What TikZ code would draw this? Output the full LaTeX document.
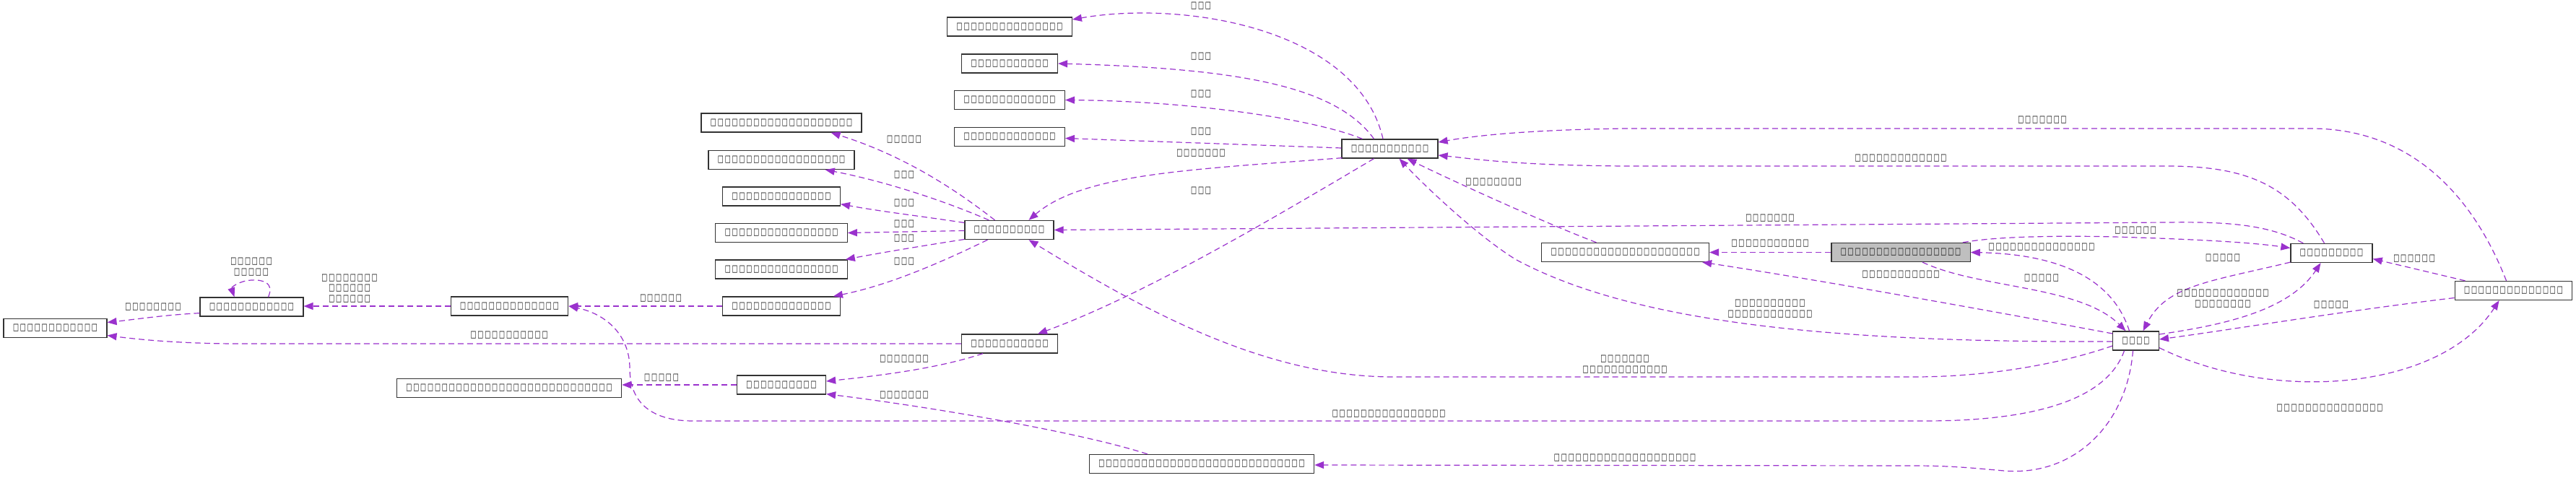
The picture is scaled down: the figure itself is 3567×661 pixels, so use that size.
\documentclass[tikz,border=0pt]{standalone}
\usepackage{fontspec}
\usepackage{graphicx}
\newfontfamily\tofufont{DejaVu Sans}
\usetikzlibrary{arrows.meta,calc}
\definecolor{edgec}{HTML}{9A32CD}
\ExplSyntaxOn
\NewDocumentCommand\tx{m}{\tl_map_inline:nn{#1}{\makebox[9.9pt][c]{\resizebox*{8pt}{10pt}{\tofufont ##1}}}}
\ExplSyntaxOff
\tikzset{
 nd/.style={draw=black!80, line width=1.3pt, fill=white, minimum height=26pt, inner xsep=12pt, inner ysep=0pt, font=\fontsize{10}{14.5}\selectfont},
 hl/.style={nd, fill=black!25},
 ed/.style={draw=edgec, line width=1.2pt, dash pattern=on 8pt off 5pt, -{Triangle[length=13pt,width=10pt,fill=edgec]}},
 lb/.style={inner sep=0pt, align=center, font=\fontsize{10}{14.5}\selectfont}
}
\begin{document}
\begin{tikzpicture}[x=1pt,y=-1pt]
\useasboundingbox (0,0) rectangle (3567,661);
\fill[white] (0,0) rectangle (3567,661);
% nodes
\node[nd] (t1) at (1398,37) {\tx{□□□□□ □□□□□ □□□□□}};
\node[nd] (t2) at (1398,88) {\tx{□□□□□ □□□□□ □}};
\node[nd] (t3) at (1398,138.5) {\tx{□□□□□ □□□□□ □□□}};
\node[nd] (t4) at (1398,189.5) {\tx{□□□□□ □□□□□ □□□}};
\node[nd] (h1) at (1924.5,206) {\tx{□□□□□ □□□□□ □}};
\node[nd] (l1) at (1082,170) {\tx{□□□□□ □□□□□ □□□□□ □□□□□}};
\node[nd] (l2) at (1082,221.5) {\tx{□□□□□ □□□□□ □□□□□ □□□}};
\node[nd] (l3) at (1082,272) {\tx{□□□□□ □□□□□ □□□□}};
\node[nd] (l4) at (1082,322.5) {\tx{□□□□□ □□□□□ □□□□□ □}};
\node[nd] (l5) at (1082,373) {\tx{□□□□□ □□□□□ □□□□□ □}};
\node[nd] (l6) at (1082,424) {\tx{□□□□□ □□□□□ □□□□}};
\node[nd] (h2) at (1397.5,318.5) {\tx{□□□□□ □□□□□}};
\node[nd] (n1) at (1398,476) {\tx{□□□□□ □□□□□ □}};
\node[nd] (n2) at (1082,533) {\tx{□□□□□ □□□□□}};
\node[nd] (n3) at (705,537.5) {\tx{□□□□□ □□□□□ □□□□□ □□□□□ □□□□□ □□□□}};
\node[nd] (k1) at (705.5,424) {\tx{□□□□□ □□□□□ □□□□}};
\node[nd] (k2) at (348.5,425) {\tx{□□□□□ □□□□□ □□}};
\node[nd] (k3) at (76.5,454.5) {\tx{□□□□□ □□□□□ □□}};
\node[nd] (b) at (1664,642.5) {\tx{□□□□□ □□□□□ □□□□□ □□□□□ □□□□□ □□□□}};
\node[nd] (m1) at (2250.5,349.5) {\tx{□□□□□ □□□□□ □□□□□ □□□□□ □}};
\node[hl] (g) at (2632,349.5) {\tx{□□□□□ □□□□□ □□□□□ □□}};
\node[nd] (r1) at (3228.5,350.5) {\tx{□□□□□ □□□□}};
\node[nd] (r2) at (3480.5,402.5) {\tx{□□□□□ □□□□□ □□□□}};
\node[nd] (c) at (2957.5,472) {\tx{□□□□}};
% edges from h1
\draw[ed] ($(h1.north)+(-9.5,0)$) .. controls (1880,40) and (1640,0) .. ($(t1.east)+(0,-10)$);
\draw[ed] ($(h1.north)+(-22,0)$) .. controls (1850,120) and (1720,95) .. (t2.east);
\draw[ed] ($(h1.north west)+(29,0)$) .. controls (1820,165) and (1650,140) .. (t3.east);
\draw[ed] ($(h1.west)+(0,-1)$) -- ($(t4.east)+(0,2)$);
\draw[ed] ($(h1.south west)+(1,-1)$) .. controls (1650,235) and (1500,240) .. ($(h2.north)+(27,0)$);
\draw[ed] ($(h1.south)+(-22,0)$) .. controls (1750,310) and (1580,410) .. ($(n1.north)+(39,0)$);
% edges into h1
\draw[ed] ($(m1.north)+(-40,0)$) .. controls (2130,305) and (2000,245) .. ($(h1.south)+(24,0)$);
\draw[ed] ($(c.west)+(0,1)$) .. controls (2500,475) and (2250,440) .. (2100,360) .. controls (2050,330) and (1975,260) .. ($(h1.south)+(13,0)$);
\draw[ed] ($(r2.north)+(-10,0)$) .. controls (3420,260) and (3330,178) .. (3200,178) -- (2250,178) .. controls (2100,180) and (2030,190) .. ($(h1.east)+(0,-9)$);
\draw[ed] ($(r1.north)+(-10,0)$) .. controls (3170,255) and (3110,230) .. (3000,230) -- (2250,230) .. controls (2100,229) and (2040,220) .. ($(h1.east)+(0,9)$);
% g, m1, c, r1, r2
\draw[ed] (g.west) -- (m1.east);
\draw[ed] ($(c.west)+(0,-10)$) .. controls (2700,420) and (2500,385) .. ($(m1.south east)+(-10,0)$);
\draw[ed] ($(r1.north west)+(18,0)$) .. controls (3140,310) and (3080,307) .. (3000,308) -- (h2.east);
\draw[ed] ($(g.north east)+(-11,0)$) .. controls (2770,326) and (2880,326) .. (2960,329) .. controls (3050,332) and (3120,336) .. ($(r1.west)+(0,-7)$);
\draw[ed] ($(c.north)+(-9,0)$) .. controls (2925,385) and (2850,352) .. (g.east);
\draw[ed] ($(g.south)+(30,0)$) .. controls (2740,400) and (2880,395) .. ($(c.north)+(-14,0)$);
\draw[ed] ($(r1.south west)+(0,-1)$) .. controls (3060,390) and (3000,395) .. ($(c.north)+(10,0)$);
\draw[ed] ($(c.east)+(0,-9)$) .. controls (3080,450) and (3170,430) .. ($(r1.south)+(-15,0)$);
\draw[ed] ($(r2.north west)+(15,0)$) -- ($(r1.east)+(0,8)$);
\draw[ed] ($(r2.west)+(0,10)$) .. controls (3250,430) and (3100,455) .. ($(c.east)+(0,-2)$);
\draw[ed] ($(c.south east)+(0,-4)$) .. controls (3150,560) and (3380,540) .. ($(r2.south)+(-20,0)$);
% c to the left
\draw[ed] ($(c.west)+(0,7)$) .. controls (2850,505) and (2750,522) .. (2650,522) -- (1930,522) .. controls (1760,522) and (1600,440) .. ($(h2.south)+(27,0)$);
\draw[ed] ($(c.south)+(-16,0)$) .. controls (2915,560) and (2800,583) .. (2665,583) -- (960,583) .. controls (905,583) and (872,560) .. (872,510) .. controls (872,465) and (840,435) .. (k1.east);
\draw[ed] ($(c.south)+(-4,0)$) .. controls (2945,590) and (2870,660) .. (2775,652) .. controls (2730,648) and (2700,645) .. (2650,645) -- ($(b.east)+(0,1.5)$);
% b, n1, n2
\draw[ed] ($(b.north west)+(81,0)$) .. controls (1500,600) and (1300,565) .. ($(n2.south east)+(0,-1)$);
\draw[ed] ($(n1.south west)+(30,0)$) .. controls (1300,510) and (1220,520) .. ($(n2.east)+(0,-5)$);
\draw[ed] (n2.west) -- (n2.west -| n3.east);
\draw[ed] (n1.west) -- (330,476) .. controls (250,476) and (190,470) .. ($(k3.east)+(0,10)$);
% left part
\draw[ed] (l6.west) -- (k1.east);
\draw[ed] (k1.west) -- (k1.west -| k2.east);
\draw[ed] ($(k2.south west)+(0,-5)$) .. controls (230,436) and (190,442) .. ($(k3.east)+(0,-8)$);
\draw[ed] ($(k2.north)+(23,0)$) .. controls (380,392) and (365,387) .. (348,388) .. controls (331,389) and (320,398) .. ($(k2.north)+(-24,0)$);
% h2 to l nodes
\draw[ed] ($(h2.north)+(-20,0)$) .. controls (1320,260) and (1250,215) .. ($(l1.south east)+(-43,0)$);
\draw[ed] ($(h2.north west)+(34,0)$) .. controls (1300,275) and (1220,250) .. ($(l2.south east)+(-41,0)$);
\draw[ed] ($(h2.west)+(0,-10)$) .. controls (1280,300) and (1220,293) .. ($(l3.south east)+(0,-3)$);
\draw[ed] ($(h2.west)+(0,1)$) -- (l4.east);
\draw[ed] ($(h2.west)+(0,13)$) .. controls (1280,340) and (1220,350) .. ($(l5.north east)+(-3,0)$);
\draw[ed] ($(h2.south)+(-30,0)$) .. controls (1300,365) and (1230,395) .. ($(l6.north east)+(-10,0)$);
% labels
\node[lb] (a1) at (1663,8) {\tx{□□□}};
\node[lb] (a2) at (1663,78) {\tx{□□□}};
\node[lb] (a3) at (1663,130) {\tx{□□□}};
\node[lb] (a4) at (1663,182) {\tx{□□□}};
\node[lb] (a5) at (1663,212) {\tx{□□□□□ □□}};
\node[lb] (a6) at (1663,264) {\tx{□□□}};
\node[lb] (b1) at (1252,193) {\tx{□□□□□}};
\node[lb] (b2) at (1252,242) {\tx{□□□}};
\node[lb] (b3) at (1252,281) {\tx{□□□}};
\node[lb] (b4) at (1252,310) {\tx{□□□}};
\node[lb] (b5) at (1252,330) {\tx{□□□}};
\node[lb] (b6) at (1252,362) {\tx{□□□}};
\node[lb] (b7) at (1252,497) {\tx{□□□□□ □□}};
\node[lb] (b8) at (1252,547) {\tx{□□□□□ □□}};
\node[lb] (c1) at (916,523) {\tx{□□□□□}};
\node[lb] (c2) at (915,413) {\tx{□□□□□ □}};
\node[lb] (c3) at (705,464) {\tx{□□□□□ □□□□□ □}};
\node[lb] (c4) at (484,399.5) {\tx{□□□□□ □□□}\\\tx{□□□□□ □}\\\tx{□□□□□ □}};
\node[lb] (c5) at (212,425) {\tx{□□□□□ □□□}};
\node[lb] (c6) at (348,369.5) {\tx{□□□□□ □}\\\tx{□□□□□}};
\node[lb] (d1) at (2068,252) {\tx{□□□□□ □□□}};
\node[lb] (d2) at (2632,219) {\tx{□□□□□ □□□□□ □□□}};
\node[lb] (d3) at (2828,166) {\tx{□□□□□ □□}};
\node[lb] (d4) at (2451,302) {\tx{□□□□□ □□}};
\node[lb] (d5) at (2451,337) {\tx{□□□□□ □□□□□ □}};
\node[lb] (d6) at (2632,380) {\tx{□□□□□ □□□□□ □}};
\node[lb] (d7) at (2451,427.5) {\tx{□□□□□ □□□□□}\\\tx{□□□□□ □□□□□ □□}};
\node[lb] (d8) at (2250,504.5) {\tx{□□□□□ □□}\\\tx{□□□□□ □□□□□ □□}};
\node[lb] (d9) at (1923,573) {\tx{□□□□□ □□□□□ □□□□□ □}};
\node[lb] (d10) at (2250,634) {\tx{□□□□□ □□□□□ □□□□□ □□□□□}};
\node[lb] (e1) at (2957,319) {\tx{□□□□□ □}};
\node[lb] (e2) at (2827,342) {\tx{□□□□□ □□□□□ □□□□□}};
\node[lb] (e3) at (2827,385) {\tx{□□□□□}};
\node[lb] (e4) at (3078,357) {\tx{□□□□□}};
\node[lb] (e5) at (3078,413.5) {\tx{□□□□□ □□□□□ □□□}\\\tx{□□□□□ □□□}};
\node[lb] (e6) at (3343,358) {\tx{□□□□□ □}};
\node[lb] (e7) at (3228,422) {\tx{□□□□□}};
\node[lb] (e8) at (3226,565) {\tx{□□□□□ □□□□□ □□□□□}};
\end{tikzpicture}
\end{document}
